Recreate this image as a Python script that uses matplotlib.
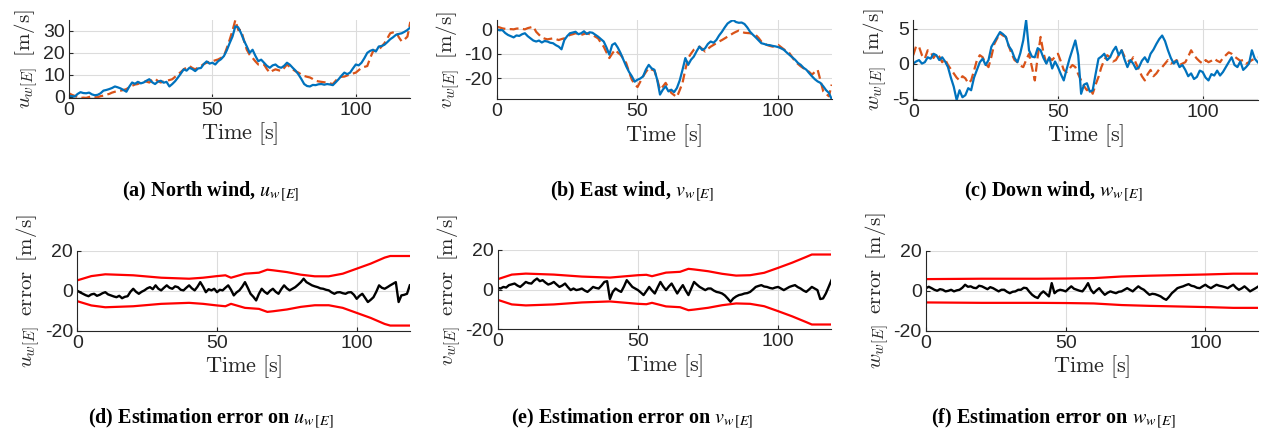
import matplotlib
matplotlib.use("Agg")
import matplotlib.pyplot as plt
import numpy as np

plt.rcParams['axes.unicode_minus'] = False
plt.rcParams['mathtext.fontset'] = 'cm'

# time base, one sample per second
t = np.arange(0, 120)

# north wind: estimate (blue) and reference (dashed)
north_est = [0.4, 0.2, 0.0, 1.2, 2.0, 1.6, 1.5, 1.8, 1.0, 0.6, 0.8, 1.5, 2.7, 3.0, 3.4, 3.9, 4.6, 4.2, 3.7, 3.0,
             2.2, 4.5, 6.4, 5.8, 6.7, 6.0, 6.4, 7.2, 7.9, 6.5, 5.7, 6.8, 7.2, 6.3, 6.7, 4.6, 5.7, 7.0, 8.7, 10.5,
             12.4, 11.8, 13.1, 12.5, 11.6, 12.8, 13.0, 14.8, 16.0, 15.0, 15.4, 14.6, 16.1, 17.0, 18.4, 21.0, 24.3, 27.3, 32.0, 31.5,
             28.8, 25.5, 22.8, 19.9, 21.3, 18.5, 16.1, 16.8, 15.4, 14.0, 13.1, 14.2, 14.6, 13.5, 13.1, 14.0, 15.4, 14.5, 13.1, 11.8,
             10.1, 8.0, 5.7, 4.8, 4.6, 5.3, 5.2, 5.6, 5.7, 5.4, 5.7, 5.5, 5.2, 6.5, 7.9, 9.5, 10.9, 10.2, 10.9, 12.8,
             14.6, 14.2, 15.4, 17.5, 19.9, 20.8, 21.3, 20.5, 22.8, 23.0, 23.6, 24.8, 26.1, 27.0, 28.1, 28.5, 28.8, 29.5, 30.3, 31.5]
north_ref = [1.5, 0.8, 0.3, -0.2, -0.6, -0.5, -0.6, -0.2, 0.0, -0.3, -0.3, 0.2, 0.4, 0.9, 1.2, 1.8, 2.2, 2.5, 2.7, 3.0,
             3.4, 4.2, 4.9, 5.5, 5.7, 6.5, 7.2, 6.8, 6.4, 7.5, 8.2, 7.0, 6.4, 6.9, 7.2, 7.5, 7.9, 9.0, 10.1, 11.2,
             12.4, 13.2, 13.9, 13.0, 12.4, 13.2, 13.9, 14.8, 15.4, 15.8, 16.1, 16.5, 16.9, 17.6, 18.4, 22.0, 25.8, 30.0, 34.8, 30.3,
             30.3, 25.5, 21.3, 19.0, 17.6, 16.0, 14.6, 14.8, 14.6, 12.5, 10.9, 11.8, 12.4, 12.0, 11.6, 13.0, 14.6, 13.5, 12.4, 11.5,
             10.9, 10.0, 9.4, 9.0, 8.7, 8.0, 7.2, 6.9, 6.7, 6.5, 6.4, 6.0, 5.7, 7.2, 8.7, 9.0, 9.1, 9.6, 10.1, 10.5,
             10.9, 12.0, 13.1, 13.5, 13.9, 17.5, 20.6, 21.0, 21.3, 22.8, 24.3, 26.5, 28.8, 29.2, 29.6, 27.0, 25.1, 26.0, 27.3, 34.0]

# east wind
east_est = [0.0, -0.4, -0.3, -1.5, -2.3, -2.8, -3.3, -2.5, -2.7, -2.0, -1.6, -2.8, -3.7, -4.6, -5.0, -4.6, -5.4, -4.8, -5.0, -5.5,
            -5.7, -6.5, -7.1, -8.2, -4.4, -2.8, -1.6, -1.3, -1.0, -2.0, -1.6, -0.8, -1.9, -1.2, -1.4, -2.2, -3.0, -4.0, -5.0, -7.5,
            -10.4, -6.4, -5.7, -7.5, -9.8, -12.5, -15.2, -17.5, -19.3, -21.5, -20.7, -20.2, -19.3, -16.5, -14.6, -16.0, -16.6, -20.7, -26.8, -24.8,
            -23.4, -25.5, -24.8, -25.8, -24.1, -21.0, -16.6, -11.8, -14.6, -12.5, -11.2, -9.0, -7.1, -8.5, -7.8, -6.0, -5.0, -5.5, -4.4, -2.5,
            -1.0, 0.8, 2.4, 3.2, 3.8, 3.0, 2.7, 2.8, 2.2, 0.8, -1.0, -2.2, -3.3, -4.5, -5.7, -6.0, -6.4, -6.5, -6.8, -7.0,
            -7.3, -7.8, -8.4, -9.5, -10.5, -11.5, -12.5, -13.8, -14.6, -15.8, -16.6, -18.0, -19.3, -20.5, -21.4, -22.0, -23.4, -25.0, -26.1, -28.7]
east_ref = [1.1, 0.8, 0.4, 0.2, 0.0, 0.1, 0.0, 0.3, 0.4, 0.2, 0.0, 0.5, 0.8, 1.1, -1.0, -2.2, -3.3, -3.8, -4.1, -3.9,
            -3.7, -4.0, -4.4, -4.0, -3.7, -3.0, -2.3, -2.0, -1.6, -2.0, -2.3, -1.9, -1.6, -2.0, -2.3, -3.0, -3.7, -5.5, -7.1, -9.5,
            -11.8, -10.0, -8.4, -9.5, -10.5, -12.0, -13.9, -17.5, -20.7, -22.5, -23.7, -21.5, -19.3, -17.5, -15.9, -16.5, -16.9, -20.5, -24.8, -23.5,
            -22.0, -24.0, -26.1, -27.0, -27.8, -25.0, -22.0, -16.5, -11.8, -10.0, -8.4, -7.8, -7.1, -8.0, -9.1, -8.0, -7.1, -6.4, -5.7, -5.0,
            -4.4, -3.7, -3.0, -2.3, -1.6, -1.0, -0.5, -1.0, -1.4, -1.5, -1.6, -2.0, -2.3, -3.5, -5.0, -5.8, -6.4, -6.8, -7.1, -6.8,
            -6.4, -7.3, -8.2, -9.0, -9.8, -11.5, -13.2, -14.2, -15.2, -16.0, -16.6, -17.5, -18.6, -17.5, -16.6, -21.0, -25.5, -26.5, -27.5, -22.7]

# down wind
down_est = [0.0, 0.3, 0.5, 0.0, 0.2, 0.9, 0.7, 1.4, 1.2, 0.5, 0.9, 0.3, -0.5, -2.0, -3.3, -5.2, -3.8, -4.8, -4.5, -3.5,
            -3.8, -2.0, -0.9, 0.2, 0.7, -0.2, 0.5, 2.4, 3.1, 3.8, 4.5, 4.2, 3.8, 2.5, 1.9, 0.8, 0.2, 1.5, 3.3, 6.2,
            1.9, 1.0, 0.9, 2.2, 1.9, 0.8, 0.0, 0.9, -0.7, 0.3, -0.5, -1.5, -2.4, -0.8, 0.7, 2.0, 3.3, 1.2, -4.3, -3.0,
            -2.8, -4.0, -3.8, -1.5, 0.7, 1.0, 1.4, 0.5, 0.9, 1.8, 2.4, 1.2, 1.9, 0.6, -0.5, 0.5, 0.0, -0.8, -0.5, 0.4,
            0.9, 0.2, 1.4, 2.0, 2.8, 3.5, 4.0, 3.2, 1.9, 0.8, 0.0, 0.4, -0.5, -0.2, -0.9, -1.8, -1.4, -2.2, -1.9, -1.0,
            -1.2, -2.0, -2.4, -1.5, -1.7, -1.0, -1.7, -1.2, -0.5, 0.2, 0.9, -0.2, -0.5, 0.3, -0.9, -0.5, 0.0, 1.9, 0.7, 0.2]
down_ref = [1.2, 2.5, 2.4, 1.2, 0.7, 1.9, 1.7, 0.8, 1.4, 1.0, 0.2, 0.6, -0.2, -0.8, -1.4, -2.0, -2.4, -1.8, -2.1, -2.8,
            -2.4, -1.0, 0.5, 1.2, 0.9, 0.0, -0.5, 1.0, 2.8, 3.6, 4.3, 4.0, 3.8, 2.5, 1.4, 0.5, 0.2, -0.3, -0.5, 0.5,
            1.4, -0.5, -2.4, 1.0, 3.8, 1.5, 0.0, 0.8, 0.5, 1.0, 1.4, 0.3, -0.9, -1.2, -0.7, -0.2, -0.5, -1.5, -2.4, -3.2,
            -3.8, -3.5, -4.3, -3.0, -1.9, -0.5, 0.5, 1.2, 0.9, 0.3, 0.5, 1.2, 1.9, 1.0, 0.5, 0.2, 0.9, 0.0, -0.9, -1.8,
            -2.4, -1.5, -0.9, -1.8, -1.4, -0.8, -0.5, 0.0, 0.5, 0.0, 0.2, 0.5, -0.2, 0.0, 0.2, 1.0, 1.9, 1.2, 0.7, 0.3,
            0.0, 0.5, 0.2, 0.4, 0.7, 0.4, 0.2, 0.8, 1.2, 1.6, 1.4, 1.0, 0.7, 0.4, 0.5, 0.0, 0.2, 0.5, 0.7, 0.9]

# estimation errors
err_north = [0.0, -0.8, -1.5, -2.2, -2.7, -1.8, -1.5, -2.5, -2.0, -1.2, -0.7, -1.8, -2.3, -2.8, -3.2, -2.5, -3.7, -3.0, -2.7, -0.5,
             1.0, -0.5, -1.5, -0.5, 0.2, 1.2, 1.8, 0.8, 2.7, 1.0, 0.2, 1.5, 2.7, 1.5, 1.0, 2.2, 1.8, 0.5, 0.2, 1.5,
             2.7, 1.2, 0.2, 2.0, 4.3, 2.0, -0.7, 0.8, 0.2, 1.0, -0.7, 0.5, 0.2, 1.5, 2.7, 0.5, -2.3, -0.8, 0.2, 2.0,
             4.3, 1.5, -1.5, -3.0, -4.8, -1.5, 1.0, -0.5, -1.5, 0.0, 1.0, -0.5, -1.5, 0.8, 2.7, 1.2, 0.2, 1.0, 1.8, 3.0,
             4.3, 6.0, 4.3, 3.5, 2.7, 2.2, 1.8, 1.2, 1.0, 0.5, 0.2, -0.8, -1.5, -0.8, -0.7, -1.2, -1.5, -0.8, -0.7, -2.0,
             -4.0, -2.5, -1.5, -3.5, -5.6, -4.5, -3.2, -0.5, 2.7, 1.5, 1.0, 1.8, 2.7, 3.5, 4.3, -5.6, -2.3, -2.0, -1.5, 2.7]
err_east = [0.8, 0.5, 1.3, 1.0, 2.2, 2.6, 3.0, 2.0, 1.3, 2.5, 3.8, 3.2, 3.0, 4.5, 5.5, 4.2, 4.7, 3.5, 2.5, 3.0,
            3.8, 2.5, 1.3, 2.0, 3.0, 1.2, -0.3, 0.5, -0.3, 0.0, 0.5, -0.5, -1.2, 0.0, 1.3, 0.8, 0.5, 2.0, 3.8, 4.2,
            -4.8, -1.2, 0.5, -0.5, -1.2, 1.5, 4.7, 3.0, 1.3, 0.5, -0.3, -1.5, -2.8, -0.8, 1.3, -0.5, -2.0, 1.0, 3.8, 1.5,
            -0.3, 1.5, 3.0, 0.5, -2.0, 0.2, 2.2, -0.5, -2.8, 0.5, 3.8, 2.5, 1.3, 0.5, -0.3, 0.5, 0.5, -0.5, -1.2, -1.5,
            -2.0, -3.0, -4.5, -6.2, -4.5, -3.5, -2.8, -2.5, -2.0, -1.8, -1.2, 0.0, 1.3, 1.8, 2.2, 1.5, 1.3, 0.8, 0.5, 1.0,
            1.3, 0.5, -0.3, 0.5, 1.3, 1.8, 2.2, 1.2, 0.5, -0.5, -1.2, 0.0, 1.3, 0.5, -0.3, -4.8, -4.5, -2.0, 1.3, 4.7]
err_down = [1.3, 2.0, 1.3, 0.5, 0.0, 0.8, 0.5, -0.3, 0.0, 0.5, -0.3, 0.2, 0.5, 1.5, 3.0, 2.0, 2.2, 1.5, 1.3, 2.5,
            2.2, 1.5, 0.8, 1.8, 1.3, 0.5, -0.3, 0.5, 0.5, -0.5, -1.2, -0.5, -0.3, 0.5, 0.5, 1.5, 1.3, -0.5, -2.0, -3.0,
            -3.6, -1.5, -0.3, -1.5, -2.8, 3.8, -1.2, 0.0, 0.5, 0.2, -0.3, 1.0, 2.2, 1.0, 0.5, 0.0, -0.3, 1.5, 3.8, 0.5,
            -1.2, 0.2, 1.3, -0.5, -2.0, -1.0, -0.3, -0.8, -1.2, -0.5, -0.3, 0.5, 1.3, 0.5, -0.3, 1.0, 2.2, 1.2, 0.5, -0.8,
            -2.0, -1.5, -1.7, -2.2, -2.8, -3.8, -4.5, -3.0, -1.2, 0.0, 1.3, 1.8, 2.2, 2.8, 3.3, 2.5, 2.2, 1.5, 1.3, 2.2,
            3.0, 2.0, 1.3, 2.2, 3.0, 2.5, 2.2, 1.8, 1.3, 2.2, 3.0, 1.5, 0.5, 1.2, 2.2, 1.0, -0.3, 0.5, 1.3, 2.2]

# error bounds (symmetric, drawn as +/-)
bound_t = [0, 5, 10, 20, 30, 40, 45, 50, 53, 55, 60, 65, 68, 70, 75, 80, 85, 90, 95, 100, 105, 110, 112, 115, 119]
bound_north = [5.2, 7.3, 8.2, 7.7, 6.5, 6.0, 6.5, 7.3, 7.7, 6.5, 8.5, 9.0, 10.5, 10.2, 9.3, 8.0, 7.2, 7.2, 8.5, 11.0,
               13.5, 16.5, 17.3, 17.3, 17.3]
bound_east = [5.2, 7.5, 8.0, 7.5, 6.5, 6.0, 6.6, 7.2, 7.4, 6.7, 8.5, 8.9, 10.4, 10.1, 9.2, 7.9, 7.0, 7.2, 8.4, 10.9,
              13.5, 16.4, 17.6, 17.6, 17.6]
bound_down_t = [0, 20, 40, 50, 60, 70, 80, 90, 100, 110, 119]
bound_down = [5.8, 6.0, 6.0, 6.1, 6.3, 7.1, 7.5, 7.8, 8.1, 8.5, 8.5]

BLUE = '#0072BD'
ORANGE = '#D95319'
AX_COL = '#262626'
TICK_FONT = ['Liberation Sans', 'DejaVu Sans']
CAP_FONT = ['Liberation Serif', 'DejaVu Serif']


def style_axes(ax, yticks, ylabel):
    ax.set_xlim(0, 119)
    ax.set_xticks([0, 50, 100])
    ax.set_yticks(yticks)
    ax.grid(True, color='#dcdcdc', linewidth=0.8)
    ax.set_axisbelow(True)
    for side in ('top', 'right'):
        ax.spines[side].set_visible(False)
    for side in ('left', 'bottom'):
        ax.spines[side].set_color(AX_COL)
        ax.spines[side].set_linewidth(0.8)
    ax.tick_params(direction='in', length=3, color=AX_COL, labelcolor=AX_COL, labelsize=14, pad=3)
    for lab in ax.get_xticklabels() + ax.get_yticklabels():
        lab.set_family(TICK_FONT)
    ax.set_xlabel(r'$\mathrm{Time\ [s]}$', fontsize=16, color=AX_COL, labelpad=1)
    ax.set_ylabel(ylabel, fontsize=15, color=AX_COL, labelpad=2)


fig = plt.figure(figsize=(12.64, 4.37), dpi=100)

top_pos = [[0.0546, 0.776, 0.270, 0.178], [0.393, 0.773, 0.265, 0.181], [0.7225, 0.771, 0.2725, 0.183]]
bot_pos = [[0.0612, 0.2426, 0.263, 0.184], [0.3938, 0.2465, 0.264, 0.182], [0.7326, 0.2426, 0.263, 0.184]]

wind = [(north_est, north_ref, [0, 10, 20, 30], 'u'),
        (east_est, east_ref, [-20, -10, 0], 'v'),
        (down_est, down_ref, [-5, 0, 5], 'w')]
for pos, (est, ref, yt, sym) in zip(top_pos, wind):
    ax = fig.add_axes(pos)
    ax.plot(t, ref, color=ORANGE, linewidth=1.6, linestyle=(0, (4, 2)))
    ax.plot(t, est, color=BLUE, linewidth=1.6)
    lo = min(min(est), min(ref))
    hi = max(max(est), max(ref))
    ax.set_ylim(lo, hi)
    style_axes(ax, yt, r'$%s_{w[E]}\;\;[\mathrm{m/s}]$' % sym)

errors = [(err_north, bound_t, bound_north, 'u'),
          (err_east, bound_t, bound_east, 'v'),
          (err_down, bound_down_t, bound_down, 'w')]
for pos, (err, bt, bnd, sym) in zip(bot_pos, errors):
    ax = fig.add_axes(pos)
    bnd = np.array(bnd)
    ax.plot(bt, bnd, color='red', linewidth=1.6)
    ax.plot(bt, -bnd, color='red', linewidth=1.6)
    ax.plot(t, err, color='black', linewidth=1.7)
    ax.set_ylim(-20, 20)
    style_axes(ax, [-20, 0, 20], r'$%s_{w[E]}\;\;\mathrm{error}\;\;[\mathrm{m/s}]$' % sym)

captions_top = [r'(a) North wind, $u_{w\,[E]}$', r'(b) East wind, $v_{w\,[E]}$', r'(c) Down wind, $w_{w\,[E]}$']
captions_bot = [r'(d) Estimation error on $u_{w\,[E]}$', r'(e) Estimation error on $v_{w\,[E]}$',
                r'(f) Estimation error on $w_{w\,[E]}$']
for i, (ct, cb) in enumerate(zip(captions_top, captions_bot)):
    xc = (i + 0.5) / 3
    fig.text(xc, 0.561, ct, ha='center', va='center', fontsize=14.5, fontweight='bold',
             family=CAP_FONT, math_fontfamily='stix')
    fig.text(xc, 0.043, cb, ha='center', va='center', fontsize=14.5, fontweight='bold',
             family=CAP_FONT, math_fontfamily='stix')

fig.savefig('out.png', dpi=100)
